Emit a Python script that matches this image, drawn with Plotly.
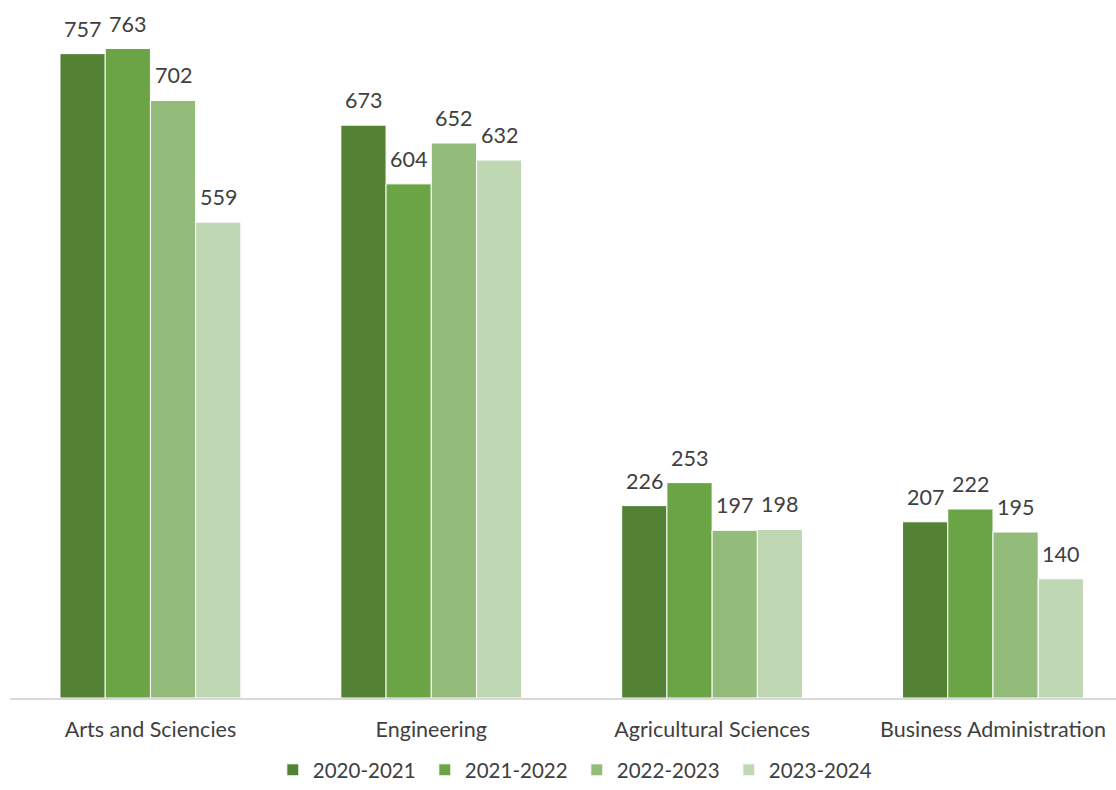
import plotly.graph_objects as go

# Enrollment by college and academic year
colleges = ["Arts and Sciencies", "Engineering", "Agricultural Sciences", "Business Administration"]
years = ["2020-2021", "2021-2022", "2022-2023", "2023-2024"]
y2020 = [757, 673, 226, 207]
y2021 = [763, 604, 253, 222]
y2022 = [702, 652, 197, 195]
y2023 = [559, 632, 198, 140]
series = [y2020, y2021, y2022, y2023]
colors = ["#548235", "#6AA444", "#93BC7B", "#C0D7B4"]

FONT = "Lato"
TEXT = "#404040"
BARGAP = 0.356

fig = go.Figure()
for name, vals, col in zip(years, series, colors):
    fig.add_trace(go.Bar(
        name=name, x=colleges, y=vals,
        marker=dict(color=col, line=dict(color="white", width=1)),
    ))

# value labels above each bar
bw = (1 - BARGAP) / len(years)
annotations = []
for j, vals in enumerate(series):
    off = (j - (len(years) - 1) / 2) * bw
    for i, v in enumerate(vals):
        annotations.append(dict(
            x=i + off, y=v, text=str(v), showarrow=False,
            xref="x", yref="y", yanchor="bottom", yshift=10,
            font=dict(family=FONT, size=21.5, color=TEXT),
        ))

fig.update_layout(
    width=1116, height=790,
    margin=dict(l=10, r=0, t=0, b=92, autoexpand=False),
    paper_bgcolor="white", plot_bgcolor="white",
    barmode="group", bargap=BARGAP, bargroupgap=0,
    annotations=annotations,
    font=dict(family=FONT, size=21.5, color=TEXT),
    showlegend=True,
    legend=dict(orientation="h", x=0.5125, xanchor="center",
                yref="container", y=-6 / 790, yanchor="bottom",
                font=dict(family=FONT, size=20.5, color=TEXT),
                entrywidth=107, itemwidth=30, traceorder="normal"),
    xaxis=dict(range=[-0.5, 3.438], showline=True, linecolor="#D9D9D9", linewidth=1.5,
               ticks="", ticklabelstandoff=11,
               tickfont=dict(family=FONT, size=21.5, color=TEXT), showgrid=False),
    yaxis=dict(range=[0, 820], visible=False, showgrid=False),
)

fig.write_html("out.html")
